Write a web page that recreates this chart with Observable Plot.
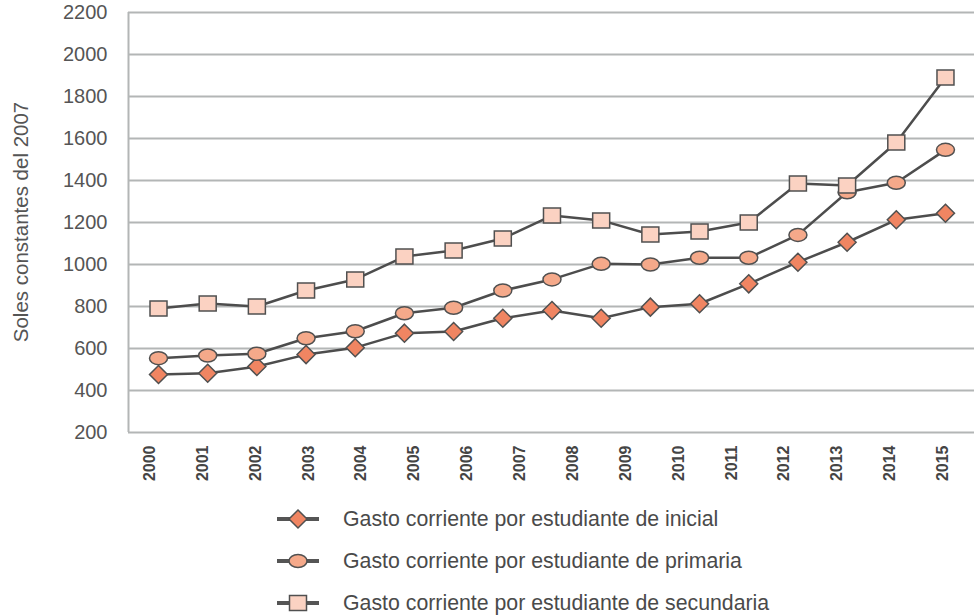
<!DOCTYPE html>
<html><head><meta charset="utf-8">
<script src="https://cdn.jsdelivr.net/npm/d3@7"></script>
<script src="https://cdn.jsdelivr.net/npm/@observablehq/plot@0.6"></script>
<style>
body{margin:0;background:#fff;font-family:"Liberation Sans",Arial,sans-serif;overflow:hidden}
#wrap{position:relative;width:974px;height:616px}
#ytitle{position:absolute;left:21px;top:222px;transform:translate(-50%,-50%) rotate(-90deg);white-space:nowrap;font-size:20.5px;color:#555}
#legend{position:absolute;left:0;top:498px;width:974px}
.row{height:42px;display:flex;align-items:center}
.row svg{margin-left:275px;flex:none}
.row span{margin-left:22px;font-size:21.3px;color:#4a4a4a;white-space:nowrap}
</style></head><body>
<div id="wrap"><div id="chart"></div><div id="ytitle">Soles constantes del 2007</div><div id="legend"></div></div>
<script>
// Category labels (16) and series values (17 points each, as drawn in the source)
const years = [2000,2001,2002,2003,2004,2005,2006,2007,2008,2009,2010,2011,2012,2013,2014,2015];
const inicial    = [476, 482, 514, 571, 604, 673, 681, 744, 781, 744, 797, 813, 908, 1011, 1106, 1213, 1244];
const primaria   = [554, 567, 575, 649, 682, 768, 794, 876, 929, 1003, 1000, 1032, 1032, 1141, 1344, 1389, 1546];
const secundaria = [790, 814, 800, 876, 929, 1038, 1067, 1124, 1233, 1210, 1143, 1157, 1200, 1386, 1376, 1581, 1890];
const seriesNames = [
  "Gasto corriente por estudiante de inicial",
  "Gasto corriente por estudiante de primaria",
  "Gasto corriente por estudiante de secundaria"
];
const yTicks = [200,400,600,800,1000,1200,1400,1600,1800,2000,2200];

// styles
const fills = ["#f08562", "#f5a98a", "#fbd2c2"];
const markerStroke = "#505050";
const lineColor = "#4d4d4d";
const gridColor = "#b3b6b6";

const diamond = {draw(ctx){ const r=9; ctx.moveTo(0,-r); ctx.lineTo(r,0); ctx.lineTo(0,r); ctx.lineTo(-r,0); ctx.closePath(); }};
const ellipse = {draw(ctx){ const rx=9, ry=6.5, k=0.5523;
  ctx.moveTo(rx,0);
  ctx.bezierCurveTo(rx, ry*k, rx*k, ry, 0, ry);
  ctx.bezierCurveTo(-rx*k, ry, -rx, ry*k, -rx, 0);
  ctx.bezierCurveTo(-rx, -ry*k, -rx*k, -ry, 0, -ry);
  ctx.bezierCurveTo(rx*k, -ry, rx, -ry*k, rx, 0);
  ctx.closePath(); }};
const rectSym = {draw(ctx){ ctx.rect(-8.5,-7.5,17,15); }};
const symbols = [diamond, ellipse, rectSym];

const series = [inicial, primaria, secundaria];
const xDomain = [-0.61, 16.59];
const labelX = years.map((y,k) => xDomain[0] + (k+0.5)*(xDomain[1]-xDomain[0])/years.length);

const marks = [
  Plot.ruleY(yTicks, {stroke: gridColor, strokeWidth: 2}),
  Plot.ruleX([xDomain[0]], {stroke: gridColor, strokeWidth: 2}),
  Plot.text(yTicks, {y: d => d, frameAnchor: "left", dx: -21, textAnchor: "end", text: d => String(d), fontSize: 20, fill: "#555"}),
  Plot.text(years, {x: (d,k) => labelX[k], frameAnchor: "bottom", dy: 13, rotate: -90, textAnchor: "end", text: d => String(d), fontSize: 16, fontWeight: "bold", fill: "#444"})
];
series.forEach((vals, s) => {
  marks.push(Plot.line(vals, {x: (d,i) => i, y: d => d, stroke: lineColor, strokeWidth: 2.5}));
  marks.push(Plot.dot(vals, {x: (d,i) => i, y: d => d, symbol: symbols[s], fill: fills[s], stroke: markerStroke, strokeWidth: 1.5}));
});

const chart = Plot.plot({
  width: 974, height: 498,
  marginTop: 12, marginBottom: 66, marginLeft: 128, marginRight: 0,
  x: {domain: xDomain, axis: null},
  y: {domain: [200, 2200], axis: null},
  style: {fontFamily: "Liberation Sans, Arial, sans-serif", background: "#fff"},
  marks
});
document.getElementById("chart").appendChild(chart);

// legend
const legend = document.getElementById("legend");
seriesNames.forEach((name, s) => {
  const row = document.createElement("div");
  row.className = "row";
  const p = d3.path(); symbols[s].draw(p, 0);
  row.innerHTML = `<svg width="46" height="24" viewBox="0 0 46 24">
    <line x1="2" x2="44" y1="12" y2="12" stroke="#555" stroke-width="4"/>
    <path transform="translate(23,12)" d="${p.toString()}" fill="${fills[s]}" stroke="${markerStroke}" stroke-width="1.5"/>
  </svg><span>${name}</span>`;
  legend.appendChild(row);
});
</script>
</body></html>
